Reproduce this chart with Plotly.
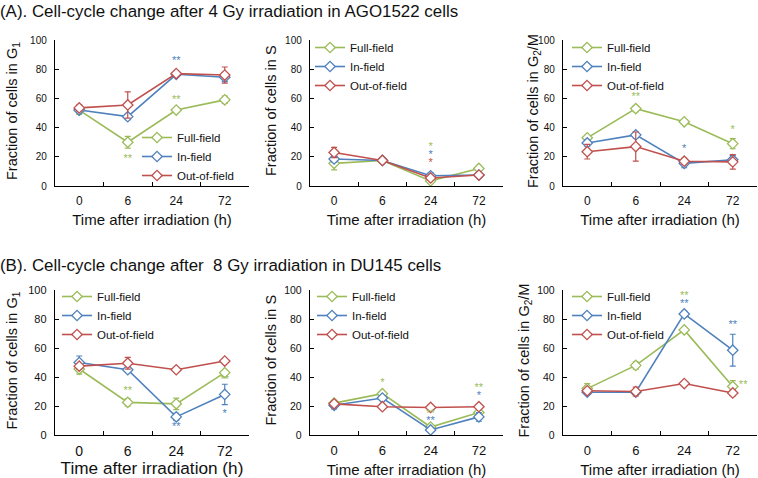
import plotly.graph_objects as go

# ---------------- data ----------------
times = ["0", "6", "24", "72"]
series = ["Full-field", "In-field", "Out-of-field"]
series_colors = ["#9BBB59", "#4F81BD", "#C0504D"]

# (A) AGO1522 cells, 4 Gy
a_g1_full = [52, 30, 52, 59]
a_g1_full_err = [3, 4, 1.5, 2.5]
a_g1_in = [52, 47.5, 76.5, 74.5]
a_g1_in_err = [2, 2, 1, 3]
a_g1_out = [53.5, 55.5, 77, 76]
a_g1_out_err = [2, 9, 1, 5.5]

a_s_full = [15.5, 17.5, 3.5, 12]
a_s_full_err = [4.5, 1, 1, 1]
a_s_in = [18.5, 17.5, 7, 7.5]
a_s_in_err = [2, 1, 2, 1]
a_s_out = [23, 17.5, 5.5, 7.5]
a_s_out_err = [3.5, 1, 1, 1]

a_g2m_full = [33, 53, 44, 29]
a_g2m_full_err = [1.5, 2, 1, 3.5]
a_g2m_in = [29.5, 35, 15.5, 18]
a_g2m_in_err = [2, 2, 3, 3]
a_g2m_out = [23.5, 27, 17, 16.5]
a_g2m_out_err = [5, 10, 2, 5]

# (B) DU145 cells, 8 Gy
b_g1_full = [45.5, 22.5, 21.5, 43]
b_g1_full_err = [3.5, 2.5, 4, 1]
b_g1_in = [50, 45, 12.5, 28]
b_g1_in_err = [4.5, 1, 2.5, 7]
b_g1_out = [47.5, 49.5, 45, 51]
b_g1_out_err = [1.5, 4, 1, 1]

b_s_full = [22, 28.5, 5.5, 15.5]
b_s_full_err = [1, 1, 1, 1.5]
b_s_in = [20.5, 25.5, 3.5, 12.5]
b_s_in_err = [2.5, 1.5, 1, 3]
b_s_out = [21.5, 19.5, 19, 19.5]
b_s_out_err = [1, 1, 1, 1]

b_g2m_full = [32, 48, 72.5, 33.5]
b_g2m_full_err = [3.5, 2.5, 1, 4]
b_g2m_in = [29.5, 29.5, 83.5, 58.5]
b_g2m_in_err = [1, 1.5, 2, 11]
b_g2m_out = [30.5, 30, 35.5, 29]
b_g2m_out_err = [1, 3, 1, 2]

# significance marks: (time, y, text, series index, text position)
a_g1_sig = [("24", 85.5, "**", 1, "middle center"), ("24", 59, "**", 0, "middle center"),
            ("6", 18, "**", 0, "middle center")]
a_s_sig = [("24", 26.5, "*", 0, "middle center"), ("24", 21, "*", 1, "middle center"),
           ("24", 15.5, "*", 2, "middle center")]
a_g2m_sig = [("6", 61, "**", 0, "middle center"), ("24", 25, "*", 1, "middle center"),
             ("72", 38.5, "*", 0, "middle center")]
b_g1_sig = [("6", 30, "**", 0, "middle center"), ("72", 38, "**", 0, "middle center"),
            ("72", 14.5, "*", 1, "middle center"), ("24", 5.5, "**", 1, "middle center")]
b_s_sig = [("6", 36, "*", 0, "middle center"), ("24", 14, "**", 0, "middle center"),
           ("24", 9.5, "**", 1, "middle center"), ("72", 32.5, "**", 0, "middle center"),
           ("72", 27, "*", 1, "middle center")]
b_g2m_sig = [("24", 95.5, "**", 0, "middle center"), ("24", 90, "**", 1, "middle center"),
             ("72", 75.5, "**", 1, "middle center"), ("72", 34.5, "  **", 0, "middle right")]

titles = ["(A). Cell-cycle change after 4 Gy irradiation in AGO1522 cells",
          "(B). Cell-cycle change after  8 Gy irradiation in DU145 cells"]
x_title = "Time after irradiation (h)"
y_titles = ["Fraction of cells in G<sub>1</sub>", "Fraction of cells in S",
            "Fraction of cells in G<sub>2</sub>/M"]

# ---------------- layout helpers ----------------
W, H = 758, 478
FONT = "Liberation Sans, Arial, sans-serif"
TXT = "#111111"


def xdom(l, r):
    return [l / W, r / W]


def ydom(t, b):
    return [1 - b / H, 1 - t / H]


panels = [
    dict(vals=[a_g1_full, a_g1_in, a_g1_out], errs=[a_g1_full_err, a_g1_in_err, a_g1_out_err],
         sig=a_g1_sig, ytitle=y_titles[0], ytx=13,
         px=(55, 249), py=(40, 186), leg=(180, 138), yt=10, xt=12, xtt=15),
    dict(vals=[a_s_full, a_s_in, a_s_out], errs=[a_s_full_err, a_s_in_err, a_s_out_err],
         sig=a_s_sig, ytitle=y_titles[1], ytx=271,
         px=(310, 503), py=(40, 186), leg=(353, 48), yt=10, xt=12, xtt=15),
    dict(vals=[a_g2m_full, a_g2m_in, a_g2m_out], errs=[a_g2m_full_err, a_g2m_in_err, a_g2m_out_err],
         sig=a_g2m_sig, ytitle=y_titles[2], ytx=534,
         px=(563, 757), py=(40, 186), leg=(610, 48), yt=10, xt=12, xtt=15),
    dict(vals=[b_g1_full, b_g1_in, b_g1_out], errs=[b_g1_full_err, b_g1_in_err, b_g1_out_err],
         sig=b_g1_sig, ytitle=y_titles[0], ytx=12,
         px=(55, 249), py=(290, 435), leg=(100, 297), yt=11, xt=14, xtt=17.2),
    dict(vals=[b_s_full, b_s_in, b_s_out], errs=[b_s_full_err, b_s_in_err, b_s_out_err],
         sig=b_s_sig, ytitle=y_titles[1], ytx=270,
         px=(310, 503), py=(290, 435), leg=(355, 297), yt=10.5, xt=13, xtt=15),
    dict(vals=[b_g2m_full, b_g2m_in, b_g2m_out], errs=[b_g2m_full_err, b_g2m_in_err, b_g2m_out_err],
         sig=b_g2m_sig, ytitle=y_titles[2], ytx=524,
         px=(563, 757), py=(290, 435), leg=(610, 297), yt=10.5, xt=13, xtt=15),
]

LEG_FIRST_OFFSET = 15  # px from legend top to centre of first entry
LEG_TEXT_OFFSET = 43   # px from legend left to start of entry text

fig = go.Figure()
layout = dict(
    width=W, height=H,
    margin=dict(l=0, r=0, t=0, b=0, autoexpand=False),
    paper_bgcolor="white", plot_bgcolor="white",
    font=dict(family=FONT, color=TXT),
    showlegend=True,
)
annotations = []

for i, p in enumerate(panels):
    n = "" if i == 0 else str(i + 1)
    xa, ya = "x" + n, "y" + n
    leg_name = "legend" + n
    for s, name in enumerate(series):
        fig.add_trace(go.Scatter(
            x=times, y=p["vals"][s], name=name, mode="lines+markers",
            xaxis=xa, yaxis=ya, legend=leg_name,
            line=dict(color=series_colors[s], width=1.6),
            marker=dict(symbol="diamond", size=8, color="white",
                        line=dict(color=series_colors[s], width=1.3)),
            error_y=dict(type="data", array=p["errs"][s], visible=True,
                         color=series_colors[s], thickness=1.2, width=3),
            cliponaxis=False,
        ))
    # significance asterisks, one text trace per series
    for s in range(len(series)):
        pts = [q for q in p["sig"] if q[3] == s]
        if not pts:
            continue
        fig.add_trace(go.Scatter(
            x=[q[0] for q in pts], y=[q[1] for q in pts], text=[q[2] for q in pts],
            mode="text", textposition=[q[4] for q in pts], showlegend=False,
            textfont=dict(size=11, color=series_colors[s], family=FONT),
            xaxis=xa, yaxis=ya, cliponaxis=False, hoverinfo="skip",
        ))
    layout["xaxis" + n] = dict(
        domain=xdom(*p["px"]), anchor=ya, type="category",
        categoryorder="array", categoryarray=times, automargin=False,
        range=[-0.5, 3.5], showgrid=False, zeroline=False,
        showline=True, linecolor="black", linewidth=1.4,
        ticks="inside", tickson="boundaries", ticklen=4, tickwidth=1.2, tickcolor="black",
        tickfont=dict(size=p["xt"], color=TXT), ticklabelstandoff=3,
        title=dict(text=x_title, font=dict(size=p["xtt"], color=TXT), standoff=7),
        fixedrange=True,
    )
    layout["yaxis" + n] = dict(
        domain=ydom(*p["py"]), anchor=xa, range=[0, 100], dtick=20, automargin=False,
        showgrid=False, zeroline=False,
        showline=True, linecolor="black", linewidth=1.4,
        ticks="inside", ticklen=4, tickwidth=1.2, tickcolor="black",
        tickfont=dict(size=p["yt"], color=TXT), ticklabelstandoff=5,
        fixedrange=True,
    )
    # y-axis title placed as rotated text centred on the axis
    annotations.append(dict(
        text=p["ytitle"], x=p["ytx"] / W, xref="paper", y=0.5, yref=ya + " domain",
        xanchor="center", yanchor="middle", textangle=-90, showarrow=False,
        yshift=2, font=dict(size=14.5, color=TXT),
    ))
    tx, ty = p["leg"]
    layout[leg_name] = dict(
        x=(tx - LEG_TEXT_OFFSET) / W, y=1 - (ty - LEG_FIRST_OFFSET) / H,
        xanchor="left", yanchor="top",
        bgcolor="rgba(0,0,0,0)", borderwidth=0, itemwidth=30,
        font=dict(size=11.5, color=TXT), tracegroupgap=0,
    )

for k, (t, yc) in enumerate(zip(titles, [12, 265])):
    annotations.append(dict(x=0, y=1 - yc / H, xref="paper", yref="paper", text=t,
                            showarrow=False, xanchor="left", yanchor="middle", xshift=-2,
                            font=dict(size=16.9, color=TXT)))
layout["annotations"] = annotations
fig.update_layout(**layout)
fig.write_html("out.html", config={"displayModeBar": False},
               post_script="document.body.style.margin='0';document.body.style.padding='0';")
